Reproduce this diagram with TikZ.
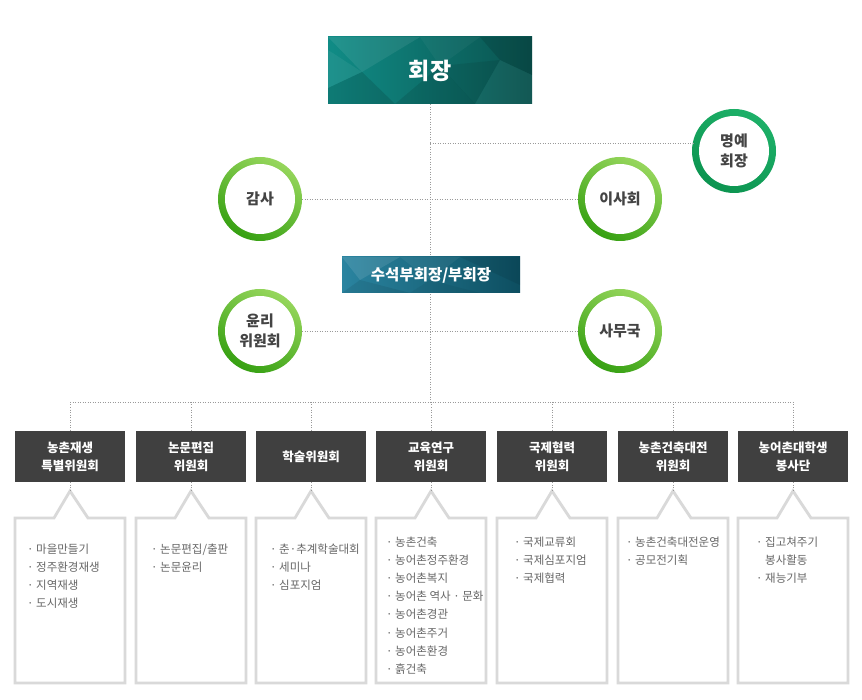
\documentclass[tikz,border=0pt]{standalone}
\usepackage{fontspec}
\setmainfont{Noto Sans CJK KR}
\usetikzlibrary{calc}
\definecolor{boxgray}{HTML}{404040}
\definecolor{listgray}{HTML}{666666}
\definecolor{dotgray}{HTML}{9A9A9A}
\definecolor{circtxt}{HTML}{444444}
\definecolor{gA}{HTML}{96D65C}
\definecolor{gB}{HTML}{36A012}
\definecolor{hA}{HTML}{1DB068}
\definecolor{hB}{HTML}{0C9450}
\definecolor{callgray}{HTML}{D9D9D9}
\definecolor{tealA}{HTML}{108C86}
\definecolor{tealB}{HTML}{0A524E}
\definecolor{blueA}{HTML}{2A84A0}
\definecolor{blueB}{HTML}{0D4E60}
\tikzset{
  dotline/.style={draw=dotgray, line width=0.8pt, dash pattern=on 0.9pt off 1.6pt},
  combox/.style={fill=boxgray, text=white, font=\bfseries\fontsize{12.5}{18}\selectfont,
    minimum width=110, minimum height=51, inner sep=0, align=center},
  circnode/.style={circle, minimum size=84, inner sep=0, text=circtxt,
    font=\bfseries\fontsize{15}{20}\selectfont, align=center},
  calloutline/.style={draw=callgray, line width=2.8pt, fill=white, line join=miter},
  listtext/.style={text=listgray, font=\fontsize{11.5}{18.2}\selectfont, align=left,
    inner sep=0, anchor=north west}
}
\newcommand\greenring[3]{%
  \shade[top color=#2, bottom color=#3, shading angle=-30] #1 circle (42);
  \fill[white] #1 circle (35);}
\newcommand\calloutbox[2]{%
  \draw[calloutline] (#1,518) -- (#1+39,518) -- (#1+55,491) -- (#1+73,518) -- (#1+110,518)
    -- (#1+110,683) -- (#1,683) -- cycle;
  \coordinate (#2) at (#1+55,491);}
\begin{document}
\begin{tikzpicture}[x=1pt,y=-1pt]
\useasboundingbox (0,0) rectangle (862,700);
\fill[white] (0,0) rectangle (862,700);

% ---------- chair box
\begin{scope}
\clip (328,37) rectangle (532,104);
\shade[left color=tealA, right color=tealB] (328,37) rectangle (532,104);
\fill[white, fill opacity=0.08] (328,37) -- (420,37) -- (362,72) -- cycle;
\fill[white, fill opacity=0.06] (328,50) -- (362,72) -- (328,88) -- cycle;
\fill[black, fill opacity=0.12] (328,88) -- (362,72) -- (395,104) -- (328,104) -- cycle;
\fill[black, fill opacity=0.10] (395,104) -- (440,66) -- (475,104) -- cycle;
\fill[white, fill opacity=0.04] (420,37) -- (480,37) -- (440,66) -- cycle;
\fill[black, fill opacity=0.12] (480,37) -- (532,37) -- (532,75) -- (500,60) -- cycle;
\fill[white, fill opacity=0.04] (500,60) -- (532,75) -- (532,104) -- (475,104) -- cycle;
\fill[black, fill opacity=0.08] (440,66) -- (500,60) -- (475,104) -- cycle;
\end{scope}
\node[inner sep=0, minimum width=204, minimum height=67, text=white,
  font=\bfseries\fontsize{23}{26}\selectfont] (chair) at (430,70.5) {회장};

% ---------- circles
\greenring{(734,151)}{hA}{hB}
\node[circnode] (hon) at (734,151) {명예\\회장};
\greenring{(260,199)}{gA}{gB}
\node[circnode] (gamsa) at (260,199) {감사};
\greenring{(620,199)}{gA}{gB}
\node[circnode] (isa) at (620,199) {이사회};
\greenring{(260,331)}{gA}{gB}
\node[circnode] (ethic) at (260,331) {윤리\\위원회};
\greenring{(620,331)}{gA}{gB}
\node[circnode] (office) at (620,331) {사무국};

% ---------- committees
\node[combox] (c1) at (70,456.5) {농촌재생\\특별위원회};
\node[combox] (c2) at (191,456.5) {논문편집\\위원회};
\node[combox] (c3) at (311,456.5) {학술위원회};
\node[combox] (c4) at (431,456.5) {교육연구\\위원회};
\node[combox] (c5) at (552,456.5) {국제협력\\위원회};
\node[combox] (c6) at (673,456.5) {농촌건축대전\\위원회};
\node[combox] (c7) at (793,456.5) {농어촌대학생\\봉사단};

% ---------- connectors
\coordinate (bus) at (430,402);
\coordinate (cHon) at (chair.south |- hon.169);
\draw[dotline] (chair.south) -- (bus);
\draw[dotline] (cHon) -- (hon.169);
\draw[dotline] (gamsa) -- (isa);
\draw[dotline] (ethic) -- (office);
\draw[dotline] (c1.north |- bus) -- (c7.north |- bus);
\foreach \c in {c1,c2,c3,c4,c5,c6,c7}{
  \draw[dotline] (\c.north |- bus) -- (\c.north);
}

% ---------- vice president box (over the line)
\begin{scope}
\clip (342,257) rectangle (520,293);
\shade[left color=blueA, right color=blueB] (342,257) rectangle (520,293);
\fill[white, fill opacity=0.10] (342,257) -- (400,257) -- (360,280) -- cycle;
\fill[black, fill opacity=0.08] (342,293) -- (360,280) -- (410,293) -- cycle;
\fill[white, fill opacity=0.05] (400,257) -- (460,257) -- (430,280) -- cycle;
\fill[black, fill opacity=0.08] (460,257) -- (520,257) -- (520,285) -- cycle;
\fill[black, fill opacity=0.05] (410,293) -- (430,280) -- (480,293) -- cycle;
\end{scope}
\node[inner sep=0, minimum width=178, minimum height=36, text=white,
  font=\bfseries\fontsize{15.5}{18}\selectfont] (vice) at (431,275) {수석부회장/부회장};

% ---------- callouts
\calloutbox{15}{a1}
\calloutbox{136}{a2}
\calloutbox{256}{a3}
\calloutbox{376}{a4}
\calloutbox{497}{a5}
\calloutbox{618}{a6}
\calloutbox{738}{a7}
\foreach \i in {1,...,7}{
  \draw[dotline] (c\i.south) -- (a\i);
}

\node[listtext] (l1) at (27,543.3) {· 마을만들기\\· 정주환경재생\\· 지역재생\\· 도시재생};
\node[listtext] (l2) at (151,543.3) {· 논문편집/출판\\· 논문윤리};
\node[listtext] (l3) at (270,543.3) {· 춘·추계학술대회\\· 세미나\\· 심포지엄};
\node[listtext] (l4) at (386,536.3) {· 농촌건축\\· 농어촌정주환경\\· 농어촌복지\\· 농어촌 역사 · 문화\\· 농어촌경관\\· 농어촌주거\\· 농어촌환경\\· 흙건축};
\node[listtext] (l5) at (514,536.3) {· 국제교류회\\· 국제심포지엄\\· 국제협력};
\node[listtext] (l6) at (626,536.3) {· 농촌건축대전운영\\· 공모전기획};
\node[listtext] (l7) at (756,536.3) {· 집고쳐주기\\\phantom{· }봉사활동\\· 재능기부};
\end{tikzpicture}
\end{document}
